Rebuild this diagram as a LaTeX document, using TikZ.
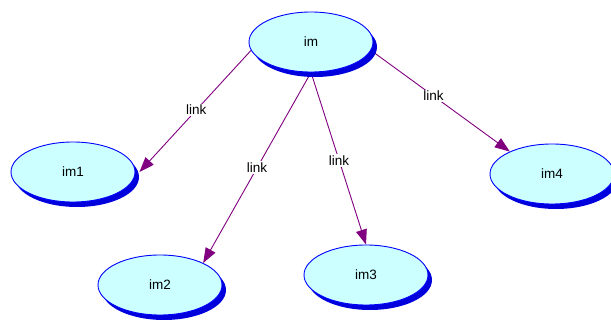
\documentclass[tikz,border=0pt]{standalone}
\usepackage{fontspec}
\setmainfont{Liberation Sans}
\usetikzlibrary{shapes.geometric,arrows.meta,shadows,backgrounds}
\definecolor{nodefill}{HTML}{CCFFFF}
\definecolor{nodeline}{HTML}{0000FF}
\definecolor{shadowblue}{HTML}{0000DD}
\definecolor{linkcol}{HTML}{800080}
\tikzset{
  topic/.style={ellipse, draw=nodeline, line width=0.9pt, fill=nodefill,
    minimum width=124pt, minimum height=60pt, inner sep=0pt,
    font=\fontsize{13.5}{15}\selectfont,
    drop shadow={fill=shadowblue, opacity=1, shadow xshift=4pt, shadow yshift=-5pt}},
  linkedge/.style={draw=linkcol, line width=0.9pt,
    -{Triangle[length=15pt,width=11pt]}},
  linklabel/.style={fill=white, inner sep=1.5pt, text=black,
    font=\fontsize{13.5}{15}\selectfont}
}
\begin{document}
\begin{tikzpicture}[x=1pt,y=-1pt]
\useasboundingbox (0,0) rectangle (611,323);
\node[topic] (im)  at (311,42)  {im};
\node[topic] (im1) at (73,172)  {im1};
\node[topic] (im2) at (160,285) {im2};
\node[topic] (im3) at (366,275) {im3};
\node[topic] (im4) at (552,174) {im4};
\begin{scope}[on background layer]
\draw[linkedge] (im.188) -- ([xshift=4pt]im1.east) node[linklabel, pos=0.49] {link};
\draw[linkedge] (im.south) -- (im2.27) node[linklabel, pos=0.5] {link};
\draw[linkedge] (im.south) -- (im3.north) node[linklabel, pos=0.51] {link};
\draw[linkedge] (im.-8) -- (im4.152) node[linklabel, pos=0.45] {link};
\end{scope}
\end{tikzpicture}
\end{document}
